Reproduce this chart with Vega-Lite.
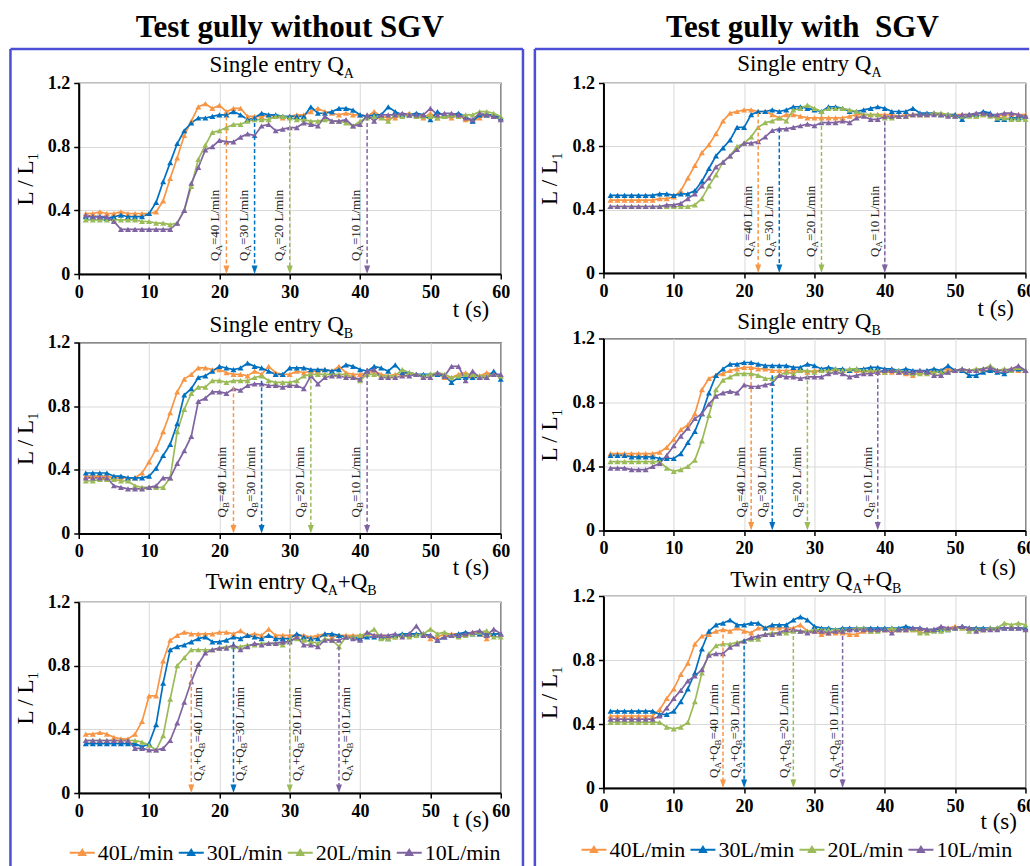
{
"$schema":"https://vega.github.io/schema/vega-lite/v6.json",
"padding":{"left":7.75,"top":11,"right":-5,"bottom":0},
"background":"white",
"config":{
"font":"Liberation Serif",
"view":{"stroke":"#000","strokeWidth":1.2},
"axis":{"labelFont":"Liberation Serif","labelFontSize":18,"labelFontWeight":"bold","labelColor":"#000","titleFont":"Liberation Serif","titleFontSize":23,"titleFontWeight":"normal","titleColor":"#000","domainColor":"#000","domainWidth":2,"tickColor":"#000","tickWidth":1.5,"tickSize":5,"labelPadding":4,"gridColor":"#D9D9D9","gridWidth":1},
"axisX":{"labelFlush":false},
"axisY":{"titlePadding":10},
"text":{"font":"Liberation Serif"}
},
"datasets":{
"arrows":[
{"p":"A0","s":"o","t":21,"L":0.99,"f":40},{"p":"A0","s":"b","t":25,"L":0.99,"f":30},{"p":"A0","s":"g","t":30,"L":0.97,"f":20},{"p":"A0","s":"v","t":41,"L":0.99,"f":10},
{"p":"A1","s":"o","t":22,"L":1.01,"f":40},{"p":"A1","s":"b","t":25,"L":0.91,"f":30},{"p":"A1","s":"g","t":31,"L":1.01,"f":20},{"p":"A1","s":"v","t":40,"L":1.0,"f":10},
{"p":"B0","s":"o","t":22,"L":0.92,"f":40},{"p":"B0","s":"b","t":26,"L":0.96,"f":30},{"p":"B0","s":"g","t":33,"L":1.01,"f":20},{"p":"B0","s":"v","t":41,"L":1.04,"f":10},
{"p":"B1","s":"o","t":21,"L":1.01,"f":40},{"p":"B1","s":"b","t":24,"L":0.97,"f":30},{"p":"B1","s":"g","t":29,"L":0.98,"f":20},{"p":"B1","s":"v","t":39,"L":0.99,"f":10},
{"p":"T0","s":"o","t":16,"L":0.83,"f":40},{"p":"T0","s":"b","t":22,"L":0.95,"f":30},{"p":"T0","s":"g","t":30,"L":1.03,"f":20},{"p":"T0","s":"v","t":37,"L":0.92,"f":10},
{"p":"T1","s":"o","t":17,"L":1.0,"f":40},{"p":"T1","s":"b","t":20,"L":0.93,"f":30},{"p":"T1","s":"g","t":27,"L":0.99,"f":20},{"p":"T1","s":"v","t":34,"L":0.99,"f":10}
],
"curves":[
{"p":"A0","t":1,"o":0.38,"b":0.36,"g":0.34,"v":0.37},
{"p":"A0","t":2,"o":0.38,"b":0.36,"g":0.34,"v":0.36},
{"p":"A0","t":3,"o":0.39,"b":0.36,"g":0.34,"v":0.36},
{"p":"A0","t":4,"o":0.38,"b":0.35,"g":0.34,"v":0.36},
{"p":"A0","t":5,"o":0.38,"b":0.36,"g":0.34,"v":0.33},
{"p":"A0","t":6,"o":0.39,"b":0.37,"g":0.34,"v":0.28},
{"p":"A0","t":7,"o":0.38,"b":0.36,"g":0.34,"v":0.28},
{"p":"A0","t":8,"o":0.38,"b":0.36,"g":0.34,"v":0.28},
{"p":"A0","t":9,"o":0.38,"b":0.36,"g":0.33,"v":0.28},
{"p":"A0","t":10,"o":0.38,"b":0.38,"g":0.33,"v":0.28},
{"p":"A0","t":11,"o":0.39,"b":0.45,"g":0.32,"v":0.28},
{"p":"A0","t":12,"o":0.46,"b":0.58,"g":0.32,"v":0.28},
{"p":"A0","t":13,"o":0.6,"b":0.7,"g":0.31,"v":0.28},
{"p":"A0","t":14,"o":0.73,"b":0.82,"g":0.32,"v":0.32},
{"p":"A0","t":15,"o":0.87,"b":0.9,"g":0.4,"v":0.4},
{"p":"A0","t":16,"o":0.96,"b":0.95,"g":0.55,"v":0.57},
{"p":"A0","t":17,"o":1.05,"b":0.98,"g":0.72,"v":0.67},
{"p":"A0","t":18,"o":1.07,"b":0.98,"g":0.81,"v":0.78},
{"p":"A0","t":19,"o":1.04,"b":0.99,"g":0.89,"v":0.8},
{"p":"A0","t":20,"o":1.06,"b":1.0,"g":0.9,"v":0.84},
{"p":"A0","t":21,"o":1.02,"b":1.0,"g":0.92,"v":0.83},
{"p":"A0","t":22,"o":1.04,"b":1.02,"g":0.94,"v":0.83},
{"p":"A0","t":23,"o":1.04,"b":1.0,"g":0.94,"v":0.86},
{"p":"A0","t":24,"o":0.99,"b":0.97,"g":0.96,"v":0.88},
{"p":"A0","t":25,"o":0.99,"b":0.98,"g":0.97,"v":0.87},
{"p":"A0","t":26,"o":0.99,"b":1.01,"g":0.97,"v":0.93},
{"p":"A0","t":27,"o":1.0,"b":1.0,"g":0.97,"v":0.94},
{"p":"A0","t":28,"o":0.99,"b":1.0,"g":0.99,"v":0.9},
{"p":"A0","t":29,"o":0.98,"b":0.99,"g":0.99,"v":0.91},
{"p":"A0","t":30,"o":0.99,"b":0.99,"g":0.98,"v":0.92},
{"p":"A0","t":31,"o":1.0,"b":0.99,"g":0.97,"v":0.92},
{"p":"A0","t":32,"o":1.0,"b":0.99,"g":0.97,"v":0.95},
{"p":"A0","t":33,"o":1.02,"b":1.05,"g":0.96,"v":0.94},
{"p":"A0","t":34,"o":1.04,"b":1.01,"g":0.96,"v":0.93},
{"p":"A0","t":35,"o":1.02,"b":1.01,"g":0.97,"v":0.99},
{"p":"A0","t":36,"o":1.01,"b":1.02,"g":0.96,"v":0.96},
{"p":"A0","t":37,"o":1.0,"b":1.04,"g":0.96,"v":0.96},
{"p":"A0","t":38,"o":1.01,"b":1.04,"g":0.95,"v":0.97},
{"p":"A0","t":39,"o":1.0,"b":1.03,"g":0.93,"v":0.93},
{"p":"A0","t":40,"o":1.0,"b":1.0,"g":0.96,"v":0.94},
{"p":"A0","t":41,"o":0.99,"b":0.99,"g":0.98,"v":1.0},
{"p":"A0","t":42,"o":1.02,"b":1.0,"g":0.99,"v":0.96},
{"p":"A0","t":43,"o":0.99,"b":1.0,"g":0.98,"v":1.0},
{"p":"A0","t":44,"o":0.98,"b":1.05,"g":0.96,"v":1.0},
{"p":"A0","t":45,"o":0.98,"b":1.02,"g":1.0,"v":1.0},
{"p":"A0","t":46,"o":1.0,"b":1.0,"g":0.99,"v":1.01},
{"p":"A0","t":47,"o":1.01,"b":1.0,"g":1.0,"v":1.0},
{"p":"A0","t":48,"o":0.99,"b":1.01,"g":0.99,"v":1.0},
{"p":"A0","t":49,"o":0.98,"b":1.0,"g":0.99,"v":1.0},
{"p":"A0","t":50,"o":1.01,"b":0.97,"g":0.99,"v":1.04},
{"p":"A0","t":51,"o":0.98,"b":1.02,"g":0.98,"v":1.0},
{"p":"A0","t":52,"o":0.99,"b":0.99,"g":0.99,"v":1.01},
{"p":"A0","t":53,"o":0.98,"b":1.0,"g":1.0,"v":1.01},
{"p":"A0","t":54,"o":1.0,"b":1.01,"g":0.99,"v":1.0},
{"p":"A0","t":55,"o":0.97,"b":0.99,"g":1.0,"v":0.98},
{"p":"A0","t":56,"o":0.96,"b":0.96,"g":1.0,"v":0.97},
{"p":"A0","t":57,"o":0.98,"b":1.0,"g":1.02,"v":1.01},
{"p":"A0","t":58,"o":1.0,"b":1.0,"g":1.02,"v":1.0},
{"p":"A0","t":59,"o":0.99,"b":1.0,"g":1.01,"v":0.99},
{"p":"A0","t":60,"o":0.98,"b":0.98,"g":0.99,"v":0.97},
{"p":"A1","t":1,"o":0.46,"b":0.49,"g":0.42,"v":0.42},
{"p":"A1","t":2,"o":0.46,"b":0.49,"g":0.42,"v":0.42},
{"p":"A1","t":3,"o":0.46,"b":0.49,"g":0.42,"v":0.42},
{"p":"A1","t":4,"o":0.46,"b":0.49,"g":0.42,"v":0.42},
{"p":"A1","t":5,"o":0.46,"b":0.49,"g":0.42,"v":0.42},
{"p":"A1","t":6,"o":0.46,"b":0.49,"g":0.42,"v":0.42},
{"p":"A1","t":7,"o":0.46,"b":0.49,"g":0.42,"v":0.42},
{"p":"A1","t":8,"o":0.47,"b":0.5,"g":0.42,"v":0.42},
{"p":"A1","t":9,"o":0.47,"b":0.5,"g":0.42,"v":0.43},
{"p":"A1","t":10,"o":0.48,"b":0.49,"g":0.42,"v":0.43},
{"p":"A1","t":11,"o":0.52,"b":0.5,"g":0.42,"v":0.44},
{"p":"A1","t":12,"o":0.6,"b":0.5,"g":0.42,"v":0.47},
{"p":"A1","t":13,"o":0.68,"b":0.52,"g":0.43,"v":0.5},
{"p":"A1","t":14,"o":0.76,"b":0.58,"g":0.47,"v":0.55},
{"p":"A1","t":15,"o":0.81,"b":0.66,"g":0.55,"v":0.6},
{"p":"A1","t":16,"o":0.88,"b":0.74,"g":0.62,"v":0.67},
{"p":"A1","t":17,"o":0.96,"b":0.79,"g":0.7,"v":0.7},
{"p":"A1","t":18,"o":1.01,"b":0.84,"g":0.74,"v":0.74},
{"p":"A1","t":19,"o":1.02,"b":0.92,"g":0.8,"v":0.78},
{"p":"A1","t":20,"o":1.03,"b":0.92,"g":0.82,"v":0.82},
{"p":"A1","t":21,"o":1.03,"b":1.0,"g":0.86,"v":0.82},
{"p":"A1","t":22,"o":1.02,"b":1.02,"g":0.92,"v":0.83},
{"p":"A1","t":23,"o":1.02,"b":1.02,"g":0.95,"v":0.86},
{"p":"A1","t":24,"o":1.0,"b":1.03,"g":0.96,"v":0.9},
{"p":"A1","t":25,"o":0.98,"b":1.02,"g":0.98,"v":0.91},
{"p":"A1","t":26,"o":1.0,"b":1.03,"g":0.96,"v":0.91},
{"p":"A1","t":27,"o":1.0,"b":1.05,"g":1.03,"v":0.92},
{"p":"A1","t":28,"o":0.99,"b":1.05,"g":1.04,"v":0.93},
{"p":"A1","t":29,"o":0.98,"b":1.04,"g":1.06,"v":0.94},
{"p":"A1","t":30,"o":0.98,"b":1.03,"g":1.04,"v":0.93},
{"p":"A1","t":31,"o":0.98,"b":1.02,"g":1.02,"v":0.95},
{"p":"A1","t":32,"o":0.98,"b":1.05,"g":1.04,"v":0.95},
{"p":"A1","t":33,"o":0.98,"b":1.05,"g":1.04,"v":0.95},
{"p":"A1","t":34,"o":0.98,"b":1.04,"g":1.04,"v":0.96},
{"p":"A1","t":35,"o":0.99,"b":1.02,"g":1.03,"v":0.95},
{"p":"A1","t":36,"o":1.0,"b":1.02,"g":1.02,"v":0.98},
{"p":"A1","t":37,"o":1.0,"b":1.03,"g":1.0,"v":0.99},
{"p":"A1","t":38,"o":1.0,"b":1.04,"g":1.0,"v":0.97},
{"p":"A1","t":39,"o":1.0,"b":1.05,"g":1.0,"v":0.97},
{"p":"A1","t":40,"o":1.0,"b":1.04,"g":0.98,"v":0.99},
{"p":"A1","t":41,"o":1.0,"b":1.02,"g":0.98,"v":0.99},
{"p":"A1","t":42,"o":0.99,"b":1.02,"g":0.99,"v":0.99},
{"p":"A1","t":43,"o":1.0,"b":1.02,"g":0.99,"v":0.99},
{"p":"A1","t":44,"o":1.0,"b":1.04,"g":1.0,"v":1.0},
{"p":"A1","t":45,"o":1.0,"b":1.01,"g":1.0,"v":1.0},
{"p":"A1","t":46,"o":1.0,"b":1.01,"g":1.0,"v":1.0},
{"p":"A1","t":47,"o":1.01,"b":1.01,"g":1.01,"v":1.0},
{"p":"A1","t":48,"o":1.0,"b":1.0,"g":1.01,"v":1.0},
{"p":"A1","t":49,"o":1.0,"b":1.0,"g":1.0,"v":0.99},
{"p":"A1","t":50,"o":1.0,"b":1.0,"g":0.99,"v":0.99},
{"p":"A1","t":51,"o":1.0,"b":0.97,"g":0.99,"v":1.0},
{"p":"A1","t":52,"o":1.0,"b":1.0,"g":0.99,"v":1.0},
{"p":"A1","t":53,"o":0.99,"b":1.0,"g":0.99,"v":1.01},
{"p":"A1","t":54,"o":1.0,"b":1.02,"g":1.0,"v":1.01},
{"p":"A1","t":55,"o":1.0,"b":1.01,"g":0.99,"v":1.0},
{"p":"A1","t":56,"o":0.99,"b":0.97,"g":0.98,"v":1.0},
{"p":"A1","t":57,"o":1.0,"b":0.97,"g":0.98,"v":1.01},
{"p":"A1","t":58,"o":1.0,"b":0.98,"g":0.97,"v":1.01},
{"p":"A1","t":59,"o":1.0,"b":0.98,"g":0.97,"v":1.0},
{"p":"A1","t":60,"o":1.0,"b":0.99,"g":0.97,"v":0.99},
{"p":"B0","t":1,"o":0.36,"b":0.38,"g":0.33,"v":0.35},
{"p":"B0","t":2,"o":0.36,"b":0.38,"g":0.33,"v":0.35},
{"p":"B0","t":3,"o":0.36,"b":0.38,"g":0.34,"v":0.35},
{"p":"B0","t":4,"o":0.36,"b":0.38,"g":0.34,"v":0.35},
{"p":"B0","t":5,"o":0.35,"b":0.36,"g":0.34,"v":0.3},
{"p":"B0","t":6,"o":0.35,"b":0.36,"g":0.33,"v":0.29},
{"p":"B0","t":7,"o":0.35,"b":0.35,"g":0.33,"v":0.28},
{"p":"B0","t":8,"o":0.35,"b":0.35,"g":0.3,"v":0.28},
{"p":"B0","t":9,"o":0.38,"b":0.35,"g":0.29,"v":0.28},
{"p":"B0","t":10,"o":0.45,"b":0.36,"g":0.29,"v":0.29},
{"p":"B0","t":11,"o":0.53,"b":0.41,"g":0.29,"v":0.3},
{"p":"B0","t":12,"o":0.64,"b":0.49,"g":0.29,"v":0.35},
{"p":"B0","t":13,"o":0.76,"b":0.56,"g":0.35,"v":0.35},
{"p":"B0","t":14,"o":0.89,"b":0.69,"g":0.64,"v":0.44},
{"p":"B0","t":15,"o":0.97,"b":0.87,"g":0.78,"v":0.52},
{"p":"B0","t":16,"o":1.0,"b":0.91,"g":0.88,"v":0.61},
{"p":"B0","t":17,"o":1.04,"b":0.98,"g":0.92,"v":0.83},
{"p":"B0","t":18,"o":1.04,"b":0.99,"g":0.92,"v":0.85},
{"p":"B0","t":19,"o":1.03,"b":1.02,"g":0.96,"v":0.89},
{"p":"B0","t":20,"o":1.03,"b":1.05,"g":0.96,"v":0.89},
{"p":"B0","t":21,"o":1.01,"b":1.04,"g":0.95,"v":0.88},
{"p":"B0","t":22,"o":1.0,"b":1.03,"g":0.96,"v":0.91},
{"p":"B0","t":23,"o":1.0,"b":1.04,"g":0.96,"v":0.9},
{"p":"B0","t":24,"o":0.99,"b":1.07,"g":0.96,"v":0.93},
{"p":"B0","t":25,"o":1.02,"b":1.05,"g":0.98,"v":0.94},
{"p":"B0","t":26,"o":1.0,"b":1.04,"g":0.99,"v":0.94},
{"p":"B0","t":27,"o":1.05,"b":1.02,"g":0.96,"v":0.93},
{"p":"B0","t":28,"o":1.01,"b":1.0,"g":0.95,"v":0.93},
{"p":"B0","t":29,"o":1.0,"b":1.0,"g":0.95,"v":0.92},
{"p":"B0","t":30,"o":1.0,"b":1.04,"g":0.95,"v":0.93},
{"p":"B0","t":31,"o":1.02,"b":1.04,"g":0.96,"v":0.93},
{"p":"B0","t":32,"o":1.01,"b":1.04,"g":0.99,"v":0.91},
{"p":"B0","t":33,"o":1.02,"b":1.03,"g":1.0,"v":0.99},
{"p":"B0","t":34,"o":1.02,"b":1.03,"g":1.0,"v":0.94},
{"p":"B0","t":35,"o":1.03,"b":1.03,"g":1.0,"v":0.98},
{"p":"B0","t":36,"o":1.02,"b":1.02,"g":1.0,"v":0.99},
{"p":"B0","t":37,"o":1.05,"b":1.03,"g":1.0,"v":0.99},
{"p":"B0","t":38,"o":1.01,"b":1.06,"g":1.0,"v":0.98},
{"p":"B0","t":39,"o":1.0,"b":1.05,"g":0.98,"v":0.98},
{"p":"B0","t":40,"o":1.0,"b":1.03,"g":0.96,"v":0.97},
{"p":"B0","t":41,"o":1.01,"b":1.02,"g":1.0,"v":1.02},
{"p":"B0","t":42,"o":1.02,"b":1.05,"g":1.0,"v":1.03},
{"p":"B0","t":43,"o":1.0,"b":1.04,"g":0.99,"v":0.98},
{"p":"B0","t":44,"o":0.99,"b":1.02,"g":0.99,"v":0.98},
{"p":"B0","t":45,"o":1.0,"b":1.06,"g":0.99,"v":0.98},
{"p":"B0","t":46,"o":1.0,"b":1.01,"g":1.03,"v":0.99},
{"p":"B0","t":47,"o":1.01,"b":1.01,"g":1.01,"v":0.99},
{"p":"B0","t":48,"o":1.0,"b":1.0,"g":1.0,"v":1.0},
{"p":"B0","t":49,"o":0.99,"b":1.0,"g":0.99,"v":0.98},
{"p":"B0","t":50,"o":1.0,"b":1.0,"g":1.0,"v":0.98},
{"p":"B0","t":51,"o":1.0,"b":1.0,"g":1.01,"v":1.01},
{"p":"B0","t":52,"o":0.98,"b":0.99,"g":1.0,"v":0.99},
{"p":"B0","t":53,"o":0.98,"b":0.95,"g":0.98,"v":1.05},
{"p":"B0","t":54,"o":1.0,"b":0.98,"g":0.99,"v":1.05},
{"p":"B0","t":55,"o":1.01,"b":0.98,"g":1.0,"v":0.96},
{"p":"B0","t":56,"o":0.99,"b":0.98,"g":1.0,"v":1.02},
{"p":"B0","t":57,"o":0.99,"b":0.98,"g":0.99,"v":0.98},
{"p":"B0","t":58,"o":1.01,"b":0.98,"g":0.99,"v":0.98},
{"p":"B0","t":59,"o":1.0,"b":1.02,"g":1.0,"v":1.0},
{"p":"B0","t":60,"o":0.99,"b":0.97,"g":0.99,"v":1.0},
{"p":"B1","t":1,"o":0.48,"b":0.47,"g":0.43,"v":0.39},
{"p":"B1","t":2,"o":0.48,"b":0.47,"g":0.43,"v":0.39},
{"p":"B1","t":3,"o":0.48,"b":0.47,"g":0.43,"v":0.39},
{"p":"B1","t":4,"o":0.48,"b":0.46,"g":0.43,"v":0.38},
{"p":"B1","t":5,"o":0.48,"b":0.46,"g":0.43,"v":0.38},
{"p":"B1","t":6,"o":0.48,"b":0.46,"g":0.43,"v":0.38},
{"p":"B1","t":7,"o":0.48,"b":0.46,"g":0.43,"v":0.4},
{"p":"B1","t":8,"o":0.49,"b":0.45,"g":0.43,"v":0.42},
{"p":"B1","t":9,"o":0.52,"b":0.45,"g":0.39,"v":0.47},
{"p":"B1","t":10,"o":0.57,"b":0.45,"g":0.37,"v":0.53},
{"p":"B1","t":11,"o":0.63,"b":0.48,"g":0.38,"v":0.59},
{"p":"B1","t":12,"o":0.66,"b":0.55,"g":0.4,"v":0.64},
{"p":"B1","t":13,"o":0.73,"b":0.62,"g":0.44,"v":0.7},
{"p":"B1","t":14,"o":0.88,"b":0.73,"g":0.56,"v":0.73},
{"p":"B1","t":15,"o":0.95,"b":0.86,"g":0.72,"v":0.79},
{"p":"B1","t":16,"o":0.97,"b":0.97,"g":0.88,"v":0.84},
{"p":"B1","t":17,"o":0.98,"b":1.01,"g":0.94,"v":0.86},
{"p":"B1","t":18,"o":1.0,"b":1.04,"g":0.96,"v":0.87},
{"p":"B1","t":19,"o":1.01,"b":1.04,"g":0.98,"v":0.86},
{"p":"B1","t":20,"o":1.02,"b":1.05,"g":0.98,"v":0.91},
{"p":"B1","t":21,"o":1.02,"b":1.05,"g":0.98,"v":0.9},
{"p":"B1","t":22,"o":1.01,"b":1.04,"g":0.97,"v":0.9},
{"p":"B1","t":23,"o":1.01,"b":1.03,"g":0.95,"v":0.91},
{"p":"B1","t":24,"o":1.0,"b":1.03,"g":0.95,"v":0.92},
{"p":"B1","t":25,"o":1.0,"b":1.03,"g":0.97,"v":0.97},
{"p":"B1","t":26,"o":1.0,"b":1.03,"g":0.99,"v":0.96},
{"p":"B1","t":27,"o":1.0,"b":1.02,"g":0.98,"v":0.96},
{"p":"B1","t":28,"o":1.0,"b":1.02,"g":1.0,"v":0.95},
{"p":"B1","t":29,"o":0.99,"b":1.04,"g":1.0,"v":0.96},
{"p":"B1","t":30,"o":1.0,"b":1.03,"g":0.99,"v":0.96},
{"p":"B1","t":31,"o":1.0,"b":1.01,"g":1.0,"v":0.96},
{"p":"B1","t":32,"o":1.0,"b":1.02,"g":1.0,"v":0.98},
{"p":"B1","t":33,"o":1.0,"b":1.01,"g":1.01,"v":0.99},
{"p":"B1","t":34,"o":1.0,"b":1.01,"g":1.0,"v":0.98},
{"p":"B1","t":35,"o":1.0,"b":1.0,"g":1.01,"v":0.96},
{"p":"B1","t":36,"o":1.0,"b":1.01,"g":1.01,"v":0.97},
{"p":"B1","t":37,"o":0.99,"b":1.01,"g":1.0,"v":0.98},
{"p":"B1","t":38,"o":1.0,"b":1.02,"g":1.0,"v":0.98},
{"p":"B1","t":39,"o":0.99,"b":1.02,"g":1.0,"v":0.99},
{"p":"B1","t":40,"o":0.99,"b":1.01,"g":0.99,"v":1.0},
{"p":"B1","t":41,"o":0.99,"b":1.01,"g":1.0,"v":1.0},
{"p":"B1","t":42,"o":0.99,"b":1.0,"g":1.0,"v":0.99},
{"p":"B1","t":43,"o":0.98,"b":1.01,"g":0.99,"v":0.99},
{"p":"B1","t":44,"o":0.97,"b":1.0,"g":0.98,"v":0.99},
{"p":"B1","t":45,"o":0.99,"b":1.0,"g":0.98,"v":1.0},
{"p":"B1","t":46,"o":1.0,"b":1.0,"g":0.98,"v":0.99},
{"p":"B1","t":47,"o":0.99,"b":1.01,"g":0.99,"v":0.97},
{"p":"B1","t":48,"o":1.0,"b":1.0,"g":0.99,"v":0.97},
{"p":"B1","t":49,"o":1.01,"b":1.03,"g":0.99,"v":0.99},
{"p":"B1","t":50,"o":1.0,"b":1.0,"g":1.0,"v":1.0},
{"p":"B1","t":51,"o":1.0,"b":1.0,"g":1.01,"v":1.01},
{"p":"B1","t":52,"o":1.0,"b":0.97,"g":1.0,"v":1.0},
{"p":"B1","t":53,"o":1.0,"b":0.97,"g":1.01,"v":1.0},
{"p":"B1","t":54,"o":1.0,"b":0.99,"g":1.01,"v":1.01},
{"p":"B1","t":55,"o":1.0,"b":1.0,"g":1.03,"v":1.02},
{"p":"B1","t":56,"o":1.0,"b":0.99,"g":1.0,"v":1.0},
{"p":"B1","t":57,"o":1.0,"b":0.98,"g":1.01,"v":1.0},
{"p":"B1","t":58,"o":1.01,"b":1.0,"g":1.0,"v":1.01},
{"p":"B1","t":59,"o":1.0,"b":1.01,"g":1.02,"v":1.03},
{"p":"B1","t":60,"o":1.0,"b":1.0,"g":1.0,"v":1.0},
{"p":"T0","t":1,"o":0.37,"b":0.31,"g":0.33,"v":0.33},
{"p":"T0","t":2,"o":0.37,"b":0.31,"g":0.33,"v":0.33},
{"p":"T0","t":3,"o":0.38,"b":0.31,"g":0.33,"v":0.33},
{"p":"T0","t":4,"o":0.37,"b":0.31,"g":0.33,"v":0.33},
{"p":"T0","t":5,"o":0.35,"b":0.31,"g":0.33,"v":0.33},
{"p":"T0","t":6,"o":0.34,"b":0.31,"g":0.33,"v":0.33},
{"p":"T0","t":7,"o":0.34,"b":0.31,"g":0.33,"v":0.33},
{"p":"T0","t":8,"o":0.37,"b":0.31,"g":0.33,"v":0.28},
{"p":"T0","t":9,"o":0.45,"b":0.29,"g":0.32,"v":0.28},
{"p":"T0","t":10,"o":0.61,"b":0.31,"g":0.3,"v":0.27},
{"p":"T0","t":11,"o":0.61,"b":0.43,"g":0.27,"v":0.27},
{"p":"T0","t":12,"o":0.83,"b":0.69,"g":0.36,"v":0.28},
{"p":"T0","t":13,"o":0.96,"b":0.9,"g":0.59,"v":0.33},
{"p":"T0","t":14,"o":0.99,"b":0.92,"g":0.8,"v":0.44},
{"p":"T0","t":15,"o":1.01,"b":0.93,"g":0.85,"v":0.57},
{"p":"T0","t":16,"o":1.0,"b":0.95,"g":0.9,"v":0.7},
{"p":"T0","t":17,"o":1.0,"b":0.97,"g":0.9,"v":0.81},
{"p":"T0","t":18,"o":1.0,"b":0.98,"g":0.9,"v":0.88},
{"p":"T0","t":19,"o":1.0,"b":0.95,"g":0.9,"v":0.9},
{"p":"T0","t":20,"o":1.01,"b":0.95,"g":0.91,"v":0.91},
{"p":"T0","t":21,"o":1.01,"b":0.96,"g":0.92,"v":0.91},
{"p":"T0","t":22,"o":1.0,"b":0.98,"g":0.92,"v":0.93},
{"p":"T0","t":23,"o":1.02,"b":0.97,"g":0.92,"v":0.9},
{"p":"T0","t":24,"o":0.99,"b":0.99,"g":0.93,"v":0.92},
{"p":"T0","t":25,"o":1.0,"b":0.98,"g":0.93,"v":0.94},
{"p":"T0","t":26,"o":0.99,"b":0.97,"g":0.94,"v":0.93},
{"p":"T0","t":27,"o":1.03,"b":0.99,"g":0.94,"v":0.94},
{"p":"T0","t":28,"o":0.99,"b":0.97,"g":0.94,"v":0.94},
{"p":"T0","t":29,"o":0.99,"b":0.97,"g":0.93,"v":0.95},
{"p":"T0","t":30,"o":0.99,"b":0.97,"g":0.96,"v":0.95},
{"p":"T0","t":31,"o":0.99,"b":1.0,"g":0.97,"v":0.98},
{"p":"T0","t":32,"o":0.99,"b":0.98,"g":0.96,"v":0.93},
{"p":"T0","t":33,"o":0.98,"b":0.97,"g":0.95,"v":0.93},
{"p":"T0","t":34,"o":0.99,"b":0.97,"g":0.94,"v":0.92},
{"p":"T0","t":35,"o":1.0,"b":1.0,"g":0.97,"v":0.96},
{"p":"T0","t":36,"o":0.98,"b":1.0,"g":0.96,"v":0.96},
{"p":"T0","t":37,"o":0.99,"b":0.99,"g":0.92,"v":0.96},
{"p":"T0","t":38,"o":0.99,"b":0.98,"g":0.98,"v":0.98},
{"p":"T0","t":39,"o":0.99,"b":0.98,"g":0.98,"v":0.97},
{"p":"T0","t":40,"o":0.99,"b":0.97,"g":0.99,"v":0.96},
{"p":"T0","t":41,"o":1.0,"b":0.98,"g":1.0,"v":1.01},
{"p":"T0","t":42,"o":0.99,"b":0.98,"g":1.03,"v":0.99},
{"p":"T0","t":43,"o":0.99,"b":0.98,"g":0.97,"v":0.99},
{"p":"T0","t":44,"o":0.98,"b":0.97,"g":0.97,"v":0.99},
{"p":"T0","t":45,"o":0.98,"b":0.99,"g":0.98,"v":1.0},
{"p":"T0","t":46,"o":0.99,"b":1.0,"g":0.99,"v":0.98},
{"p":"T0","t":47,"o":0.99,"b":1.0,"g":0.98,"v":1.0},
{"p":"T0","t":48,"o":1.0,"b":1.0,"g":0.99,"v":1.05},
{"p":"T0","t":49,"o":1.0,"b":1.0,"g":1.0,"v":0.99},
{"p":"T0","t":50,"o":0.97,"b":0.99,"g":1.03,"v":0.99},
{"p":"T0","t":51,"o":0.98,"b":0.96,"g":1.0,"v":0.96},
{"p":"T0","t":52,"o":1.0,"b":0.98,"g":1.01,"v":0.98},
{"p":"T0","t":53,"o":1.0,"b":0.99,"g":0.99,"v":0.99},
{"p":"T0","t":54,"o":1.0,"b":1.0,"g":0.98,"v":0.99},
{"p":"T0","t":55,"o":1.0,"b":1.01,"g":0.99,"v":1.0},
{"p":"T0","t":56,"o":1.01,"b":1.0,"g":1.0,"v":1.01},
{"p":"T0","t":57,"o":1.0,"b":1.0,"g":1.01,"v":1.02},
{"p":"T0","t":58,"o":0.97,"b":1.0,"g":1.02,"v":0.99},
{"p":"T0","t":59,"o":1.0,"b":1.0,"g":0.98,"v":1.03},
{"p":"T0","t":60,"o":1.0,"b":1.0,"g":0.98,"v":1.0},
{"p":"T1","t":1,"o":0.45,"b":0.48,"g":0.41,"v":0.43},
{"p":"T1","t":2,"o":0.45,"b":0.48,"g":0.41,"v":0.43},
{"p":"T1","t":3,"o":0.45,"b":0.48,"g":0.41,"v":0.43},
{"p":"T1","t":4,"o":0.45,"b":0.48,"g":0.41,"v":0.43},
{"p":"T1","t":5,"o":0.45,"b":0.48,"g":0.41,"v":0.43},
{"p":"T1","t":6,"o":0.45,"b":0.48,"g":0.41,"v":0.43},
{"p":"T1","t":7,"o":0.45,"b":0.48,"g":0.41,"v":0.43},
{"p":"T1","t":8,"o":0.49,"b":0.46,"g":0.41,"v":0.45},
{"p":"T1","t":9,"o":0.56,"b":0.46,"g":0.38,"v":0.5},
{"p":"T1","t":10,"o":0.62,"b":0.48,"g":0.37,"v":0.56},
{"p":"T1","t":11,"o":0.71,"b":0.54,"g":0.38,"v":0.61},
{"p":"T1","t":12,"o":0.78,"b":0.62,"g":0.41,"v":0.67},
{"p":"T1","t":13,"o":0.9,"b":0.72,"g":0.54,"v":0.7},
{"p":"T1","t":14,"o":0.95,"b":0.87,"g":0.72,"v":0.74},
{"p":"T1","t":15,"o":0.96,"b":0.98,"g":0.84,"v":0.83},
{"p":"T1","t":16,"o":0.98,"b":1.02,"g":0.89,"v":0.84},
{"p":"T1","t":17,"o":0.99,"b":1.03,"g":0.9,"v":0.84},
{"p":"T1","t":18,"o":0.98,"b":1.05,"g":0.9,"v":0.88},
{"p":"T1","t":19,"o":1.0,"b":1.02,"g":0.91,"v":0.9},
{"p":"T1","t":20,"o":0.98,"b":1.02,"g":0.92,"v":0.92},
{"p":"T1","t":21,"o":0.97,"b":1.03,"g":0.93,"v":0.94},
{"p":"T1","t":22,"o":1.0,"b":1.03,"g":0.93,"v":0.95},
{"p":"T1","t":23,"o":1.0,"b":1.0,"g":0.96,"v":0.96},
{"p":"T1","t":24,"o":1.0,"b":1.02,"g":0.97,"v":0.96},
{"p":"T1","t":25,"o":1.0,"b":1.02,"g":0.97,"v":0.97},
{"p":"T1","t":26,"o":1.0,"b":1.02,"g":0.97,"v":0.99},
{"p":"T1","t":27,"o":1.0,"b":1.05,"g":0.98,"v":0.99},
{"p":"T1","t":28,"o":1.02,"b":1.07,"g":0.98,"v":0.98},
{"p":"T1","t":29,"o":0.98,"b":1.05,"g":0.98,"v":0.97},
{"p":"T1","t":30,"o":0.98,"b":1.01,"g":0.99,"v":0.98},
{"p":"T1","t":31,"o":0.96,"b":1.0,"g":0.99,"v":0.98},
{"p":"T1","t":32,"o":0.97,"b":1.0,"g":0.99,"v":0.97},
{"p":"T1","t":33,"o":0.97,"b":0.99,"g":0.99,"v":0.98},
{"p":"T1","t":34,"o":0.97,"b":1.0,"g":0.99,"v":0.98},
{"p":"T1","t":35,"o":0.96,"b":1.0,"g":0.99,"v":0.99},
{"p":"T1","t":36,"o":0.96,"b":1.0,"g":1.0,"v":0.99},
{"p":"T1","t":37,"o":0.98,"b":1.0,"g":1.0,"v":0.99},
{"p":"T1","t":38,"o":0.98,"b":1.0,"g":0.98,"v":0.99},
{"p":"T1","t":39,"o":0.99,"b":1.0,"g":0.98,"v":0.99},
{"p":"T1","t":40,"o":0.99,"b":1.0,"g":0.99,"v":0.99},
{"p":"T1","t":41,"o":0.99,"b":1.0,"g":1.0,"v":0.97},
{"p":"T1","t":42,"o":0.99,"b":1.0,"g":0.99,"v":0.99},
{"p":"T1","t":43,"o":0.99,"b":1.01,"g":0.99,"v":0.99},
{"p":"T1","t":44,"o":0.99,"b":1.0,"g":0.99,"v":1.0},
{"p":"T1","t":45,"o":0.98,"b":1.0,"g":0.97,"v":1.0},
{"p":"T1","t":46,"o":0.99,"b":0.99,"g":0.97,"v":0.99},
{"p":"T1","t":47,"o":0.99,"b":0.99,"g":0.98,"v":0.99},
{"p":"T1","t":48,"o":1.0,"b":0.99,"g":0.98,"v":1.01},
{"p":"T1","t":49,"o":1.0,"b":0.99,"g":0.99,"v":1.0},
{"p":"T1","t":50,"o":1.01,"b":1.0,"g":1.0,"v":1.0},
{"p":"T1","t":51,"o":1.0,"b":1.01,"g":1.0,"v":1.01},
{"p":"T1","t":52,"o":1.0,"b":1.0,"g":0.98,"v":1.0},
{"p":"T1","t":53,"o":1.0,"b":1.0,"g":0.99,"v":0.98},
{"p":"T1","t":54,"o":0.99,"b":1.0,"g":0.99,"v":0.99},
{"p":"T1","t":55,"o":1.0,"b":1.0,"g":1.0,"v":0.99},
{"p":"T1","t":56,"o":1.0,"b":1.0,"g":1.0,"v":0.99},
{"p":"T1","t":57,"o":1.0,"b":1.0,"g":1.03,"v":1.0},
{"p":"T1","t":58,"o":1.0,"b":1.0,"g":1.02,"v":1.0},
{"p":"T1","t":59,"o":1.0,"b":1.0,"g":1.03,"v":1.0},
{"p":"T1","t":60,"o":1.0,"b":1.0,"g":1.02,"v":0.99}
]
},
"spacing":6.7,
"bounds":"full",
"resolve":{"scale":{"x":"independent","y":"independent"},"legend":{"color":"independent"}},
"hconcat":[
{"spacing":68.5,"bounds":"flush","resolve":{"scale":{"x":"independent","y":"independent"},"legend":{"color":"independent"}},
"vconcat":[
{"width":422,"height":191,"layer":[
{"data":{"name":"curves"},"transform":[{"filter":"datum.p=='A0'"},{"fold":["o","b","g","v"],"as":["s","L"]}],
"encoding":{"x":{"field":"t","type":"quantitative","scale":{"domain":[0,60],"nice":false},"axis":{"values":[0,10,20,30,40,50,60],"title":"t (s)","titleAnchor":"end","titleX":410,"titlePadding":-3}},
"y":{"field":"L","type":"quantitative","scale":{"domain":[0,1.2],"nice":false},"axis":{"values":[0,0.2,0.4,0.6,0.8,1,1.2],"format":".1~f","title":"L / L₁"}},
"color":{"field":"s","type":"nominal","scale":{"domain":["o","b","g","v"],"range":["#F79646","#0070C0","#9BBB59","#8064A2"]},"legend":null}},
"layer":[{"mark":{"type":"line","strokeWidth":1.7}},{"mark":{"type":"point","shape":"triangle-up","filled":true,"size":36,"opacity":1}}]},
{"data":{"name":"arrows"},"transform":[{"filter":"datum.p=='A0'"},{"calculate":"'=' + datum.f + ' L/min'","as":"lab"}],
"encoding":{"x":{"field":"t","type":"quantitative","title":"t (s)"},"color":{"field":"s","type":"nominal","legend":null}},
"layer":[
{"mark":{"type":"rule","strokeDash":[4,2.5],"strokeWidth":1.5},"encoding":{"y":{"field":"L","type":"quantitative","title":"L / L₁"},"y2":{"datum":0.045}}},
{"mark":{"type":"point","shape":"M-1.5,-4.2L1.5,-4.2L0,0Z","filled":true,"size":16,"opacity":1},"encoding":{"y":{"datum":0}}},
{"mark":{"type":"text","text":"Q","angle":270,"align":"left","baseline":"alphabetic","fontSize":13,"dx":13,"dy":-7},"encoding":{"y":{"datum":0},"color":{"value":"#222"}}},
{"mark":{"type":"text","text":"A","angle":270,"align":"left","baseline":"alphabetic","fontSize":9,"dx":22.4,"dy":-4},"encoding":{"y":{"datum":0},"color":{"value":"#222"}}},
{"mark":{"type":"text","angle":270,"align":"left","baseline":"alphabetic","fontSize":13,"dx":28.9,"dy":-7},"encoding":{"y":{"datum":0},"text":{"field":"lab"},"color":{"value":"#222"}}}
]},
{"data":{"values":[{}]},"layer":[
{"mark":{"type":"text","text":"Single entry Q","align":"right","baseline":"alphabetic","fontSize":23,"dx":54,"dy":-11,"color":"#000"},"encoding":{"x":{"datum":30},"y":{"datum":1.2}}},
{"mark":{"type":"text","text":"A","align":"left","baseline":"alphabetic","fontSize":14,"dx":54,"dy":-5,"color":"#000"},"encoding":{"x":{"datum":30},"y":{"datum":1.2}}},
{"mark":{"type":"text","text":"Test gully without SGV","align":"center","baseline":"alphabetic","fontSize":31,"fontWeight":"bold","dy":-46,"color":"#000"},"encoding":{"x":{"datum":30},"y":{"datum":1.2}}},
{"mark":{"type":"rule","color":"#4B4FD6","strokeWidth":2.5},"encoding":{"x":{"datum":-9.71},"y":{"datum":1.4136},"y2":{"datum":-3.719}}},
{"mark":{"type":"rule","color":"#4B4FD6","strokeWidth":2.5},"encoding":{"x":{"datum":63.16},"y":{"datum":1.4136},"y2":{"datum":-3.719}}},
{"mark":{"type":"rule","color":"#4B4FD6","strokeWidth":2.5},"encoding":{"x":{"datum":-9.71},"x2":{"datum":63.16},"y":{"datum":1.4136}}}
]}
]},
{"width":422,"height":191,"layer":[
{"data":{"name":"curves"},"transform":[{"filter":"datum.p=='B0'"},{"fold":["o","b","g","v"],"as":["s","L"]}],
"encoding":{"x":{"field":"t","type":"quantitative","scale":{"domain":[0,60],"nice":false},"axis":{"values":[0,10,20,30,40,50,60],"title":"t (s)","titleAnchor":"end","titleX":410,"titlePadding":-4}},
"y":{"field":"L","type":"quantitative","scale":{"domain":[0,1.2],"nice":false},"axis":{"values":[0,0.2,0.4,0.6,0.8,1,1.2],"format":".1~f","title":"L / L₁"}},
"color":{"field":"s","type":"nominal","scale":{"domain":["o","b","g","v"],"range":["#F79646","#0070C0","#9BBB59","#8064A2"]},"legend":null}},
"layer":[{"mark":{"type":"line","strokeWidth":1.7}},{"mark":{"type":"point","shape":"triangle-up","filled":true,"size":36,"opacity":1}}]},
{"data":{"name":"arrows"},"transform":[{"filter":"datum.p=='B0'"},{"calculate":"'=' + datum.f + ' L/min'","as":"lab"}],
"encoding":{"x":{"field":"t","type":"quantitative","title":"t (s)"},"color":{"field":"s","type":"nominal","legend":null}},
"layer":[
{"mark":{"type":"rule","strokeDash":[4,2.5],"strokeWidth":1.5},"encoding":{"y":{"field":"L","type":"quantitative","title":"L / L₁"},"y2":{"datum":0.045}}},
{"mark":{"type":"point","shape":"M-1.5,-4.2L1.5,-4.2L0,0Z","filled":true,"size":16,"opacity":1},"encoding":{"y":{"datum":0}}},
{"mark":{"type":"text","text":"Q","angle":270,"align":"left","baseline":"alphabetic","fontSize":13,"dx":16,"dy":-7},"encoding":{"y":{"datum":0},"color":{"value":"#222"}}},
{"mark":{"type":"text","text":"B","angle":270,"align":"left","baseline":"alphabetic","fontSize":9,"dx":25.4,"dy":-4},"encoding":{"y":{"datum":0},"color":{"value":"#222"}}},
{"mark":{"type":"text","angle":270,"align":"left","baseline":"alphabetic","fontSize":13,"dx":31.4,"dy":-7},"encoding":{"y":{"datum":0},"text":{"field":"lab"},"color":{"value":"#222"}}}
]},
{"data":{"values":[{}]},"layer":[
{"mark":{"type":"text","text":"Single entry Q","align":"right","baseline":"alphabetic","fontSize":23,"dx":54,"dy":-11,"color":"#000"},"encoding":{"x":{"datum":30},"y":{"datum":1.2}}},
{"mark":{"type":"text","text":"B","align":"left","baseline":"alphabetic","fontSize":14,"dx":54,"dy":-5,"color":"#000"},"encoding":{"x":{"datum":30},"y":{"datum":1.2}}}
]}
]},
{"width":422,"height":191,"layer":[
{"data":{"name":"curves"},"transform":[{"filter":"datum.p=='T0'"},{"fold":["o","b","g","v"],"as":["s","L"]}],
"encoding":{"x":{"field":"t","type":"quantitative","scale":{"domain":[0,60],"nice":false},"axis":{"values":[0,10,20,30,40,50,60],"title":"t (s)","titleAnchor":"end","titleX":410,"titlePadding":-12}},
"y":{"field":"L","type":"quantitative","scale":{"domain":[0,1.2],"nice":false},"axis":{"values":[0,0.2,0.4,0.6,0.8,1,1.2],"format":".1~f","title":"L / L₁"}},
"color":{"field":"s","type":"nominal","scale":{"domain":["o","b","g","v"],"range":["#F79646","#0070C0","#9BBB59","#8064A2"]},
"legend":{"orient":"none","legendX":-10,"legendY":237,"direction":"horizontal","title":null,"padding":0,"symbolType":"M-1,0H1M-0.24,0.17L0,-0.23L0.24,0.17Z","symbolSize":625,"symbolStrokeWidth":2,"labelFont":"Liberation Serif","labelFontSize":22,"labelColor":"#000","labelOffset":2,"columnPadding":1,"labelExpr":"datum.value=='o'?'40L/min':datum.value=='b'?'30L/min':datum.value=='g'?'20L/min':'10L/min'","encode":{"symbols":{"update":{"fill":{"scale":"color","field":"value"},"stroke":{"scale":"color","field":"value"},"opacity":{"value":1}}}}}}},
"layer":[{"mark":{"type":"line","strokeWidth":1.7}},{"mark":{"type":"point","shape":"triangle-up","filled":true,"size":36,"opacity":1}}]},
{"data":{"name":"arrows"},"transform":[{"filter":"datum.p=='T0'"},{"calculate":"'=' + datum.f + ' L/min'","as":"lab"}],
"encoding":{"x":{"field":"t","type":"quantitative","title":"t (s)"},"color":{"field":"s","type":"nominal"}},
"layer":[
{"mark":{"type":"rule","strokeDash":[4,2.5],"strokeWidth":1.5},"encoding":{"y":{"field":"L","type":"quantitative","title":"L / L₁"},"y2":{"datum":0.045}}},
{"mark":{"type":"point","shape":"M-1.5,-4.2L1.5,-4.2L0,0Z","filled":true,"size":16,"opacity":1},"encoding":{"y":{"datum":0}}},
{"mark":{"type":"text","text":"Q","angle":270,"align":"left","baseline":"alphabetic","fontSize":13,"dx":12,"dy":11},"encoding":{"y":{"datum":0},"color":{"value":"#222"}}},
{"mark":{"type":"text","text":"A","angle":270,"align":"left","baseline":"alphabetic","fontSize":9,"dx":21.4,"dy":14},"encoding":{"y":{"datum":0},"color":{"value":"#222"}}},
{"mark":{"type":"text","text":"+Q","angle":270,"align":"left","baseline":"alphabetic","fontSize":13,"dx":27.9,"dy":11},"encoding":{"y":{"datum":0},"color":{"value":"#222"}}},
{"mark":{"type":"text","text":"B","angle":270,"align":"left","baseline":"alphabetic","fontSize":9,"dx":44.6,"dy":14},"encoding":{"y":{"datum":0},"color":{"value":"#222"}}},
{"mark":{"type":"text","angle":270,"align":"left","baseline":"alphabetic","fontSize":13,"dx":50.6,"dy":11},"encoding":{"y":{"datum":0},"text":{"field":"lab"},"color":{"value":"#222"}}}
]},
{"data":{"values":[{}]},"layer":[
{"mark":{"type":"text","text":"Twin entry Q","align":"right","baseline":"alphabetic","fontSize":23,"dx":38,"dy":-13,"color":"#000"},"encoding":{"x":{"datum":30},"y":{"datum":1.2}}},
{"mark":{"type":"text","text":"A","align":"left","baseline":"alphabetic","fontSize":14,"dx":38,"dy":-7,"color":"#000"},"encoding":{"x":{"datum":30},"y":{"datum":1.2}}},
{"mark":{"type":"text","text":"+Q","align":"left","baseline":"alphabetic","fontSize":23,"dx":48,"dy":-13,"color":"#000"},"encoding":{"x":{"datum":30},"y":{"datum":1.2}}},
{"mark":{"type":"text","text":"B","align":"left","baseline":"alphabetic","fontSize":14,"dx":77.5,"dy":-7,"color":"#000"},"encoding":{"x":{"datum":30},"y":{"datum":1.2}}}
]}
]}
]},
{"spacing":65.5,"bounds":"flush","resolve":{"scale":{"x":"independent","y":"independent"},"legend":{"color":"independent"}},
"vconcat":[
{"width":422,"height":190,"layer":[
{"data":{"name":"curves"},"transform":[{"filter":"datum.p=='A1'"},{"fold":["o","b","g","v"],"as":["s","L"]}],
"encoding":{"x":{"field":"t","type":"quantitative","scale":{"domain":[0,60],"nice":false},"axis":{"values":[0,10,20,30,40,50,60],"title":"t (s)","titleAnchor":"end","titleX":410,"titlePadding":-3}},
"y":{"field":"L","type":"quantitative","scale":{"domain":[0,1.2],"nice":false},"axis":{"values":[0,0.2,0.4,0.6,0.8,1,1.2],"format":".1~f","title":"L / L₁"}},
"color":{"field":"s","type":"nominal","scale":{"domain":["o","b","g","v"],"range":["#F79646","#0070C0","#9BBB59","#8064A2"]},"legend":null}},
"layer":[{"mark":{"type":"line","strokeWidth":1.7}},{"mark":{"type":"point","shape":"triangle-up","filled":true,"size":36,"opacity":1}}]},
{"data":{"name":"arrows"},"transform":[{"filter":"datum.p=='A1'"},{"calculate":"'=' + datum.f + ' L/min'","as":"lab"}],
"encoding":{"x":{"field":"t","type":"quantitative","title":"t (s)"},"color":{"field":"s","type":"nominal","legend":null}},
"layer":[
{"mark":{"type":"rule","strokeDash":[4,2.5],"strokeWidth":1.5},"encoding":{"y":{"field":"L","type":"quantitative","title":"L / L₁"},"y2":{"datum":0.045}}},
{"mark":{"type":"point","shape":"M-1.5,-4.2L1.5,-4.2L0,0Z","filled":true,"size":16,"opacity":1},"encoding":{"y":{"datum":0}}},
{"mark":{"type":"text","text":"Q","angle":270,"align":"left","baseline":"alphabetic","fontSize":13,"dx":16,"dy":-6},"encoding":{"y":{"datum":0},"color":{"value":"#222"}}},
{"mark":{"type":"text","text":"A","angle":270,"align":"left","baseline":"alphabetic","fontSize":9,"dx":25.4,"dy":-3},"encoding":{"y":{"datum":0},"color":{"value":"#222"}}},
{"mark":{"type":"text","angle":270,"align":"left","baseline":"alphabetic","fontSize":13,"dx":31.9,"dy":-6},"encoding":{"y":{"datum":0},"text":{"field":"lab"},"color":{"value":"#222"}}}
]},
{"data":{"values":[{}]},"layer":[
{"mark":{"type":"text","text":"Single entry Q","align":"right","baseline":"alphabetic","fontSize":23,"dx":57,"dy":-12,"color":"#000"},"encoding":{"x":{"datum":30},"y":{"datum":1.2}}},
{"mark":{"type":"text","text":"A","align":"left","baseline":"alphabetic","fontSize":14,"dx":57,"dy":-6,"color":"#000"},"encoding":{"x":{"datum":30},"y":{"datum":1.2}}},
{"mark":{"type":"text","text":"Test gully with\u00a0 SGV","align":"center","baseline":"alphabetic","fontSize":31,"fontWeight":"bold","dx":-12,"dy":-46,"color":"#000"},"encoding":{"x":{"datum":30},"y":{"datum":1.2}}},
{"mark":{"type":"rule","color":"#4B4FD6","strokeWidth":2.5},"encoding":{"x":{"datum":-9.75},"y":{"datum":1.4147},"y2":{"datum":-3.745}}},
{"mark":{"type":"rule","color":"#4B4FD6","strokeWidth":2.5},"encoding":{"x":{"datum":-9.75},"x2":{"datum":60.53},"y":{"datum":1.4147}}}
]}
]},
{"width":422,"height":192,"layer":[
{"data":{"name":"curves"},"transform":[{"filter":"datum.p=='B1'"},{"fold":["o","b","g","v"],"as":["s","L"]}],
"encoding":{"x":{"field":"t","type":"quantitative","scale":{"domain":[0,60],"nice":false},"axis":{"values":[0,10,20,30,40,50,60],"title":"t (s)","titleAnchor":"end","titleX":412,"titlePadding":-1}},
"y":{"field":"L","type":"quantitative","scale":{"domain":[0,1.2],"nice":false},"axis":{"values":[0,0.2,0.4,0.6,0.8,1,1.2],"format":".1~f","title":"L / L₁"}},
"color":{"field":"s","type":"nominal","scale":{"domain":["o","b","g","v"],"range":["#F79646","#0070C0","#9BBB59","#8064A2"]},"legend":null}},
"layer":[{"mark":{"type":"line","strokeWidth":1.7}},{"mark":{"type":"point","shape":"triangle-up","filled":true,"size":36,"opacity":1}}]},
{"data":{"name":"arrows"},"transform":[{"filter":"datum.p=='B1'"},{"calculate":"'=' + datum.f + ' L/min'","as":"lab"}],
"encoding":{"x":{"field":"t","type":"quantitative","title":"t (s)"},"color":{"field":"s","type":"nominal","legend":null}},
"layer":[
{"mark":{"type":"rule","strokeDash":[4,2.5],"strokeWidth":1.5},"encoding":{"y":{"field":"L","type":"quantitative","title":"L / L₁"},"y2":{"datum":0.045}}},
{"mark":{"type":"point","shape":"M-1.5,-4.2L1.5,-4.2L0,0Z","filled":true,"size":16,"opacity":1},"encoding":{"y":{"datum":0}}},
{"mark":{"type":"text","text":"Q","angle":270,"align":"left","baseline":"alphabetic","fontSize":13,"dx":13,"dy":-6},"encoding":{"y":{"datum":0},"color":{"value":"#222"}}},
{"mark":{"type":"text","text":"B","angle":270,"align":"left","baseline":"alphabetic","fontSize":9,"dx":22.4,"dy":-3},"encoding":{"y":{"datum":0},"color":{"value":"#222"}}},
{"mark":{"type":"text","angle":270,"align":"left","baseline":"alphabetic","fontSize":13,"dx":28.4,"dy":-6},"encoding":{"y":{"datum":0},"text":{"field":"lab"},"color":{"value":"#222"}}}
]},
{"data":{"values":[{}]},"layer":[
{"mark":{"type":"text","text":"Single entry Q","align":"right","baseline":"alphabetic","fontSize":23,"dx":57,"dy":-10,"color":"#000"},"encoding":{"x":{"datum":30},"y":{"datum":1.2}}},
{"mark":{"type":"text","text":"B","align":"left","baseline":"alphabetic","fontSize":14,"dx":57,"dy":-4,"color":"#000"},"encoding":{"x":{"datum":30},"y":{"datum":1.2}}}
]}
]},
{"width":422,"height":192,"layer":[
{"data":{"name":"curves"},"transform":[{"filter":"datum.p=='T1'"},{"fold":["o","b","g","v"],"as":["s","L"]}],
"encoding":{"x":{"field":"t","type":"quantitative","scale":{"domain":[0,60],"nice":false},"axis":{"values":[0,10,20,30,40,50,60],"title":"t (s)","titleAnchor":"end","titleX":413,"titlePadding":-5}},
"y":{"field":"L","type":"quantitative","scale":{"domain":[0,1.2],"nice":false},"axis":{"values":[0,0.2,0.4,0.6,0.8,1,1.2],"format":".1~f","title":"L / L₁"}},
"color":{"field":"s","type":"nominal","scale":{"domain":["o","b","g","v"],"range":["#F79646","#0070C0","#9BBB59","#8064A2"]},
"legend":{"orient":"none","legendX":-23,"legendY":240,"direction":"horizontal","title":null,"padding":0,"symbolType":"M-1,0H1M-0.24,0.17L0,-0.23L0.24,0.17Z","symbolSize":625,"symbolStrokeWidth":2,"labelFont":"Liberation Serif","labelFontSize":22,"labelColor":"#000","labelOffset":2,"columnPadding":1,"labelExpr":"datum.value=='o'?'40L/min':datum.value=='b'?'30L/min':datum.value=='g'?'20L/min':'10L/min'","encode":{"symbols":{"update":{"fill":{"scale":"color","field":"value"},"stroke":{"scale":"color","field":"value"},"opacity":{"value":1}}}}}}},
"layer":[{"mark":{"type":"line","strokeWidth":1.7}},{"mark":{"type":"point","shape":"triangle-up","filled":true,"size":36,"opacity":1}}]},
{"data":{"name":"arrows"},"transform":[{"filter":"datum.p=='T1'"},{"calculate":"'=' + datum.f + ' L/min'","as":"lab"}],
"encoding":{"x":{"field":"t","type":"quantitative","title":"t (s)"},"color":{"field":"s","type":"nominal"}},
"layer":[
{"mark":{"type":"rule","strokeDash":[4,2.5],"strokeWidth":1.5},"encoding":{"y":{"field":"L","type":"quantitative","title":"L / L₁"},"y2":{"datum":0.045}}},
{"mark":{"type":"point","shape":"M-1.5,-4.2L1.5,-4.2L0,0Z","filled":true,"size":16,"opacity":1},"encoding":{"y":{"datum":0}}},
{"mark":{"type":"text","text":"Q","angle":270,"align":"left","baseline":"alphabetic","fontSize":13,"dx":10,"dy":-5},"encoding":{"y":{"datum":0},"color":{"value":"#222"}}},
{"mark":{"type":"text","text":"A","angle":270,"align":"left","baseline":"alphabetic","fontSize":9,"dx":19.4,"dy":-2},"encoding":{"y":{"datum":0},"color":{"value":"#222"}}},
{"mark":{"type":"text","text":"+Q","angle":270,"align":"left","baseline":"alphabetic","fontSize":13,"dx":25.9,"dy":-5},"encoding":{"y":{"datum":0},"color":{"value":"#222"}}},
{"mark":{"type":"text","text":"B","angle":270,"align":"left","baseline":"alphabetic","fontSize":9,"dx":42.6,"dy":-2},"encoding":{"y":{"datum":0},"color":{"value":"#222"}}},
{"mark":{"type":"text","angle":270,"align":"left","baseline":"alphabetic","fontSize":13,"dx":48.6,"dy":-5},"encoding":{"y":{"datum":0},"text":{"field":"lab"},"color":{"value":"#222"}}}
]},
{"data":{"values":[{}]},"layer":[
{"mark":{"type":"text","text":"Twin entry Q","align":"right","baseline":"alphabetic","fontSize":23,"dx":38,"dy":-9,"color":"#000"},"encoding":{"x":{"datum":30},"y":{"datum":1.2}}},
{"mark":{"type":"text","text":"A","align":"left","baseline":"alphabetic","fontSize":14,"dx":38,"dy":-3,"color":"#000"},"encoding":{"x":{"datum":30},"y":{"datum":1.2}}},
{"mark":{"type":"text","text":"+Q","align":"left","baseline":"alphabetic","fontSize":23,"dx":48,"dy":-9,"color":"#000"},"encoding":{"x":{"datum":30},"y":{"datum":1.2}}},
{"mark":{"type":"text","text":"B","align":"left","baseline":"alphabetic","fontSize":14,"dx":77.5,"dy":-3,"color":"#000"},"encoding":{"x":{"datum":30},"y":{"datum":1.2}}}
]}
]}
]}
]
}
